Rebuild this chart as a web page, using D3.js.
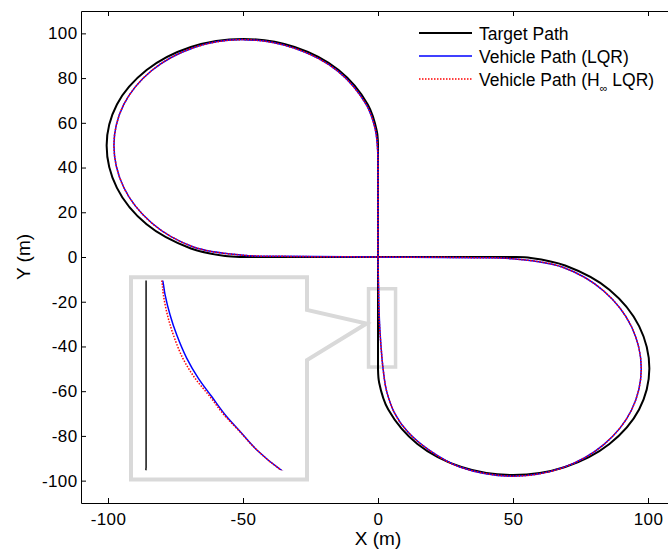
<!DOCTYPE html>
<html>
<head>
<meta charset="utf-8">
<script src="https://cdn.jsdelivr.net/npm/d3@7"></script>
<style>
  body { margin: 0; background: #fff; }
  svg text { font-family: "Liberation Sans", Arial, sans-serif; fill: #000; }
</style>
</head>
<body>
<div class="chart"></div>
<script>
// Tick values of both axes
const xTicks = [-100, -50, 0, 50, 100];
const yTicks = [-100, -80, -60, -40, -20, 0, 20, 40, 60, 80, 100];

// Legend entries
const legendLabels = ["Target Path", "Vehicle Path (LQR)", "Vehicle Path (H"];

// Target figure-eight, [x, y] in metres, in driving order
const targetPath = [
  [0, -49.5], [0, -46], [0, 0], [0, 46], [0, 49.5], [0, 50], [-0.43, 56.2],
  [-3.8, 68.2], [-14.6, 83.6], [-30.9, 93.9], [-50, 97.5],
  [-69.3, 93.9], [-85.7, 83.6], [-96.7, 68.2], [-100.5, 50],
  [-96.7, 30.9], [-85.7, 14.6], [-69.3, 3.8], [-56.6, 0.43], [-50, 0],
  [-46, 0], [0, 0], [46, 0], [50, 0], [56.6, -0.43],
  [69.3, -3.8], [85.7, -14.6], [96.7, -30.9], [100.5, -50],
  [96.7, -68.2], [85.7, -83.6], [69.3, -93.9], [50, -97.5],
  [30.9, -93.9], [14.6, -83.6], [3.8, -68.2], [0.43, -56.2], [0, -50]
];

// Vehicle path with the LQR controller
const lqrPath = [
  [0.1, -8], [0, 0], [0, 40], [-0.1, 47], [-1.0, 57],
  [-4.3, 68.0], [-15, 83.2], [-31.1, 93.4], [-50, 97.2],
  [-68.3, 93.6], [-83.8, 83.4], [-94.2, 68.1], [-97.8, 50],
  [-94.2, 31.2], [-83.8, 15.2], [-68.3, 4.5], [-50, 0.8],
  [-35, 0.3], [0, 0], [35, -0.3], [50, -0.8],
  [68.2, -4.5], [83.6, -15.2], [93.9, -31.2], [97.5, -50],
  [93.9, -68.4], [83.6, -83.9], [68.2, -94.3], [50, -98],
  [30.3, -93.9], [19.1, -86.5], [11.1, -78.3], [6.2, -69.9], [3.1, -59.5],
  [1.885, -50], [1.538, -46.2], [1.306, -42.8], [1.097, -39.7], [0.913, -36.4],
  [0.726, -33.0], [0.565, -29.3], [0.426, -25.0], [0.333, -21.3], [0.264, -17.6],
  [0.232, -15]
];

// Vehicle path with the H-infinity LQR controller
const hinfPath = [
  [0.1, -8], [0, 0], [0, 40], [-0.1, 47], [-1.0, 57],
  [-4.3, 68.0], [-15, 83.2], [-31.1, 93.4], [-50, 97.2],
  [-68.3, 93.6], [-83.8, 83.4], [-94.2, 68.1], [-97.8, 50],
  [-94.2, 31.2], [-83.8, 15.2], [-68.3, 4.5], [-50, 0.8],
  [-35, 0.3], [0, 0], [35, -0.3], [50, -0.8],
  [68.2, -4.5], [83.6, -15.2], [93.9, -31.2], [97.5, -50],
  [93.9, -68.4], [83.6, -83.9], [68.2, -94.3], [50, -98],
  [30.3, -93.9], [19.1, -86.5], [11.1, -78.3], [6.2, -69.9], [3.1, -59.5],
  [1.885, -50], [1.538, -46.2], [1.300, -42.8], [1.080, -39.7], [0.889, -36.4],
  [0.680, -33.0], [0.510, -29.3], [0.379, -25.0], [0.296, -21.3], [0.240, -17.6],
  [0.218, -15]
];

// Region of the main plot that is enlarged, and what the inset shows
const zoomBoxX = [-3.5, 6.5];
const zoomBoxY = [-49.2, -14.2];
const insetX = [-0.21, 2.24];
const insetY = [-51.7, -14.4];
const insetShownY = [-50, -15];

const width = 668, height = 552;
const plot = { left: 81, right: 675, top: 11, bottom: 503 };

const svg = d3.select(".chart").append("svg")
  .attr("width", width)
  .attr("height", height);

svg.append("rect").attr("width", width).attr("height", height).attr("fill", "#fff");

const x = d3.scaleLinear().domain([-110, 110]).range([plot.left, plot.right]);
const y = d3.scaleLinear().domain([-110, 110]).range([plot.bottom, plot.top]);
const fmt = d => String(d);

// axes, MATLAB style: ticks pointing inward on all four sides
function styleAxis(g) {
  g.attr("font-size", null).attr("font-family", null);
  g.selectAll("path, line").attr("stroke", "#000");
  g.selectAll("text").style("font-size", "17px").style("letter-spacing", "0.4px");
}

svg.append("g")
  .attr("transform", `translate(0,${plot.bottom})`)
  .call(d3.axisBottom(x).tickValues(xTicks).tickFormat(fmt).tickSizeInner(-5).tickSizeOuter(0).tickPadding(10))
  .call(styleAxis);

svg.append("g")
  .attr("transform", `translate(0,${plot.top})`)
  .call(d3.axisTop(x).tickValues(xTicks).tickFormat("").tickSizeInner(-5).tickSizeOuter(0))
  .call(styleAxis);

svg.append("g")
  .attr("transform", `translate(${plot.left},0)`)
  .call(d3.axisLeft(y).tickValues(yTicks).tickFormat(fmt).tickSizeInner(-5).tickSizeOuter(0).tickPadding(3.5))
  .call(styleAxis);

svg.append("g")
  .attr("transform", `translate(${plot.right},0)`)
  .call(d3.axisRight(y).tickValues(yTicks).tickFormat("").tickSizeInner(-5).tickSizeOuter(0))
  .call(styleAxis);

// axis titles
svg.append("text")
  .attr("x", (plot.left + plot.right) / 2)
  .attr("y", 545)
  .attr("text-anchor", "middle")
  .style("font-size", "19px")
  .text("X (m)");

svg.append("text")
  .attr("transform", `translate(30,${(plot.top + plot.bottom) / 2}) rotate(-90)`)
  .attr("text-anchor", "middle")
  .style("font-size", "19px")
  .text("Y (m)");

// grey box around the enlarged region
svg.append("rect")
  .attr("x", x(zoomBoxX[0]))
  .attr("y", y(zoomBoxY[1]))
  .attr("width", x(zoomBoxX[1]) - x(zoomBoxX[0]))
  .attr("height", y(zoomBoxY[0]) - y(zoomBoxY[1]))
  .attr("fill", "none")
  .attr("stroke", "#d9d9d9")
  .attr("stroke-width", 3.5);

// main paths
const line = d3.line()
  .x(d => x(d[0]))
  .y(d => y(d[1]))
  .curve(d3.curveCatmullRomClosed.alpha(0.5));

svg.append("path").attr("d", line(targetPath))
  .attr("fill", "none").attr("stroke", "#000").attr("stroke-width", 2);
svg.append("path").attr("d", line(lqrPath))
  .attr("fill", "none").attr("stroke", "#0000ff").attr("stroke-width", 1.5);
svg.append("path").attr("d", line(hinfPath))
  .attr("fill", "none").attr("stroke", "#ff0000").attr("stroke-width", 1.5)
  .attr("stroke-dasharray", "1.5,1.5");

// inset with callout pointer
const inset = { left: 131, right: 307, top: 277.3, bottom: 479.5 };
const tip = { x: x(zoomBoxX[0]) - 2, y: 323.5 };

svg.append("path")
  .attr("d", `M${inset.left},${inset.top}H${inset.right}V310L${tip.x},${tip.y}L${inset.right},360V${inset.bottom}H${inset.left}Z`)
  .attr("fill", "#fff")
  .attr("stroke", "#d9d9d9")
  .attr("stroke-width", 4)
  .attr("stroke-linejoin", "miter");

const xi = d3.scaleLinear().domain(insetX).range([inset.left, inset.right]);
const yi = d3.scaleLinear().domain(insetY).range([inset.bottom, inset.top]);

svg.append("clipPath").attr("id", "inset-clip")
  .append("rect")
  .attr("x", inset.left + 2)
  .attr("y", yi(insetShownY[1]))
  .attr("width", inset.right - inset.left - 4)
  .attr("height", yi(insetShownY[0]) - yi(insetShownY[1]));

const insetLine = d3.line()
  .x(d => xi(d[0]))
  .y(d => yi(d[1]))
  .curve(d3.curveCatmullRomClosed.alpha(0.5));

const insetG = svg.append("g").attr("clip-path", "url(#inset-clip)");
insetG.append("path").attr("d", insetLine(targetPath))
  .attr("fill", "none").attr("stroke", "#111").attr("stroke-width", 1.5);
insetG.append("path").attr("d", insetLine(lqrPath))
  .attr("fill", "none").attr("stroke", "#0000ff").attr("stroke-width", 1.5);
insetG.append("path").attr("d", insetLine(hinfPath))
  .attr("fill", "none").attr("stroke", "#ff0000").attr("stroke-width", 1.5)
  .attr("stroke-dasharray", "1.5,1.5");

// legend (no box)
const legendStyles = [
  { stroke: "#000", width: 2, dash: null },
  { stroke: "#0000ff", width: 1.5, dash: null },
  { stroke: "#ff0000", width: 1.5, dash: "1.5,1.5" }
];

const legend = svg.append("g").attr("transform", "translate(419,33)");
legendLabels.forEach((label, i) => {
  const row = legend.append("g").attr("transform", `translate(0,${i * 23})`);
  row.append("line")
    .attr("x1", 0).attr("x2", 53)
    .attr("stroke", legendStyles[i].stroke)
    .attr("stroke-width", legendStyles[i].width)
    .attr("stroke-dasharray", legendStyles[i].dash);
  const t = row.append("text")
    .attr("x", 60)
    .attr("y", 6.5)
    .style("font-size", "17.5px")
    .text(label);
  if (i === 2) {
    t.append("tspan").attr("dy", 6).style("font-size", "11px").text("\u221E");
    t.append("tspan").attr("dy", -6).text(" LQR)");
  }
});
</script>
</body>
</html>
